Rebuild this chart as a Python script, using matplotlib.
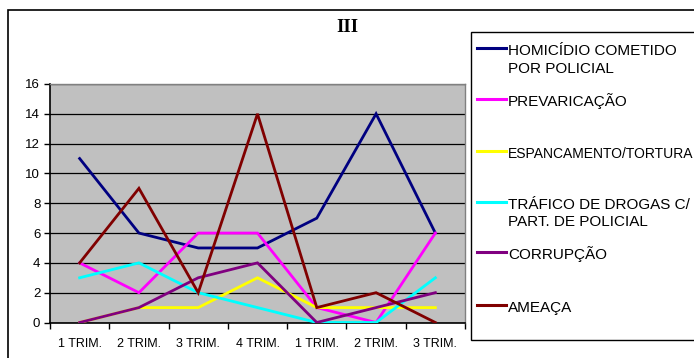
import matplotlib
matplotlib.use("Agg")
import matplotlib.pyplot as plt
from matplotlib.lines import Line2D
from matplotlib.patches import Rectangle

# Quarterly counts per occurrence type
categories = ["1 TRIM.", "2 TRIM.", "3 TRIM.", "4 TRIM.", "1 TRIM.", "2 TRIM.", "3 TRIM."]
homicidio = [11, 6, 5, 5, 7, 14, 6]
prevaricacao = [4, 2, 6, 6, 1, 0, 6]
espancamento = [0, 1, 1, 3, 1, 1, 1]
trafico = [3, 4, 2, 1, 0, 0, 3]
corrupcao = [0, 1, 3, 4, 0, 1, 2]
ameaca = [4, 9, 2, 14, 1, 2, 0]

series_labels = ["HOMICÍDIO COMETIDO\nPOR POLICIAL", "PREVARICAÇÃO", "ESPANCAMENTO/TORTURA",
                 "TRÁFICO DE DROGAS C/\nPART. DE POLICIAL", "CORRUPÇÃO", "AMEAÇA"]
series_values = [homicidio, prevaricacao, espancamento, trafico, corrupcao, ameaca]
series_colors = ["#000080", "#FF00FF", "#FFFF00", "#00FFFF", "#800080", "#800000"]
label_sizes = [11, 11, 10, 11, 11, 11]

plt.rcParams["font.family"] = ["Liberation Sans", "DejaVu Sans"]

W, H = 694, 358
fig = plt.figure(figsize=(W / 100, H / 100), dpi=100)

def fx(px):
    return px / W

def fy(py):
    return 1 - py / H

# Outer chart frame
fig.add_artist(Rectangle((fx(8), -0.1), 1.2, fy(10) + 0.1, transform=fig.transFigure,
                         fill=False, edgecolor="black", linewidth=1.2))

ax = fig.add_axes([fx(50), fy(322.5), fx(465) - fx(50), fy(84) - fy(322.5)])
ax.set_facecolor("#C0C0C0")

x = list(range(len(categories)))
for vals, col in zip(series_values, series_colors):
    ax.plot(x, vals, color=col, linewidth=2.0, solid_joinstyle="miter", zorder=3)

ax.set_xlim(-0.5, len(categories) - 0.5)
ax.set_ylim(0, 16)
ax.set_yticks(range(0, 17, 2))
ax.yaxis.grid(True, color="black", linewidth=0.9)
ax.set_axisbelow(True)

ax.set_xticks(x)
ax.set_xticklabels(categories, fontsize=9)
ax.set_xticks([i - 0.5 for i in range(len(categories) + 1)], minor=True)
ax.tick_params(axis="x", which="major", length=0, pad=11)
ax.tick_params(axis="x", which="minor", length=4, width=1, direction="out", color="black")
ax.tick_params(axis="y", length=4, width=1, direction="out", labelsize=9.5, pad=3)

for side in ["top", "right"]:
    ax.spines[side].set_color("#808080")
    ax.spines[side].set_linewidth(1)
ax.spines["left"].set_color("black")
ax.spines["left"].set_linewidth(1.2)
ax.spines["bottom"].set_color("black")
ax.spines["bottom"].set_linewidth(1.2)

fig.text(fx(347), fy(27), "III", family="Liberation Serif", fontweight="bold",
         fontsize=13.5, ha="center", va="center")

# Legend box
fig.add_artist(Rectangle((fx(471), fy(340)), 1.0, fy(32) - fy(340), transform=fig.transFigure,
                         fill=True, facecolor="white", edgecolor="black", linewidth=1.0, zorder=5))
legend_y = [48.3, 99.3, 150.7, 201.7, 252.3, 305]
for lbl, col, yy, fs in zip(series_labels, series_colors, legend_y, label_sizes):
    fig.add_artist(Line2D([fx(477), fx(506)], [fy(yy), fy(yy)], transform=fig.transFigure,
                          color=col, linewidth=2.2, zorder=6))
    for i, line in enumerate(lbl.split("\n")):
        fig.text(fx(508), fy(yy + 7 + i * 17.3), line, fontsize=fs, ha="left",
                 va="baseline", zorder=6)

fig.savefig("out.png", dpi=100)
